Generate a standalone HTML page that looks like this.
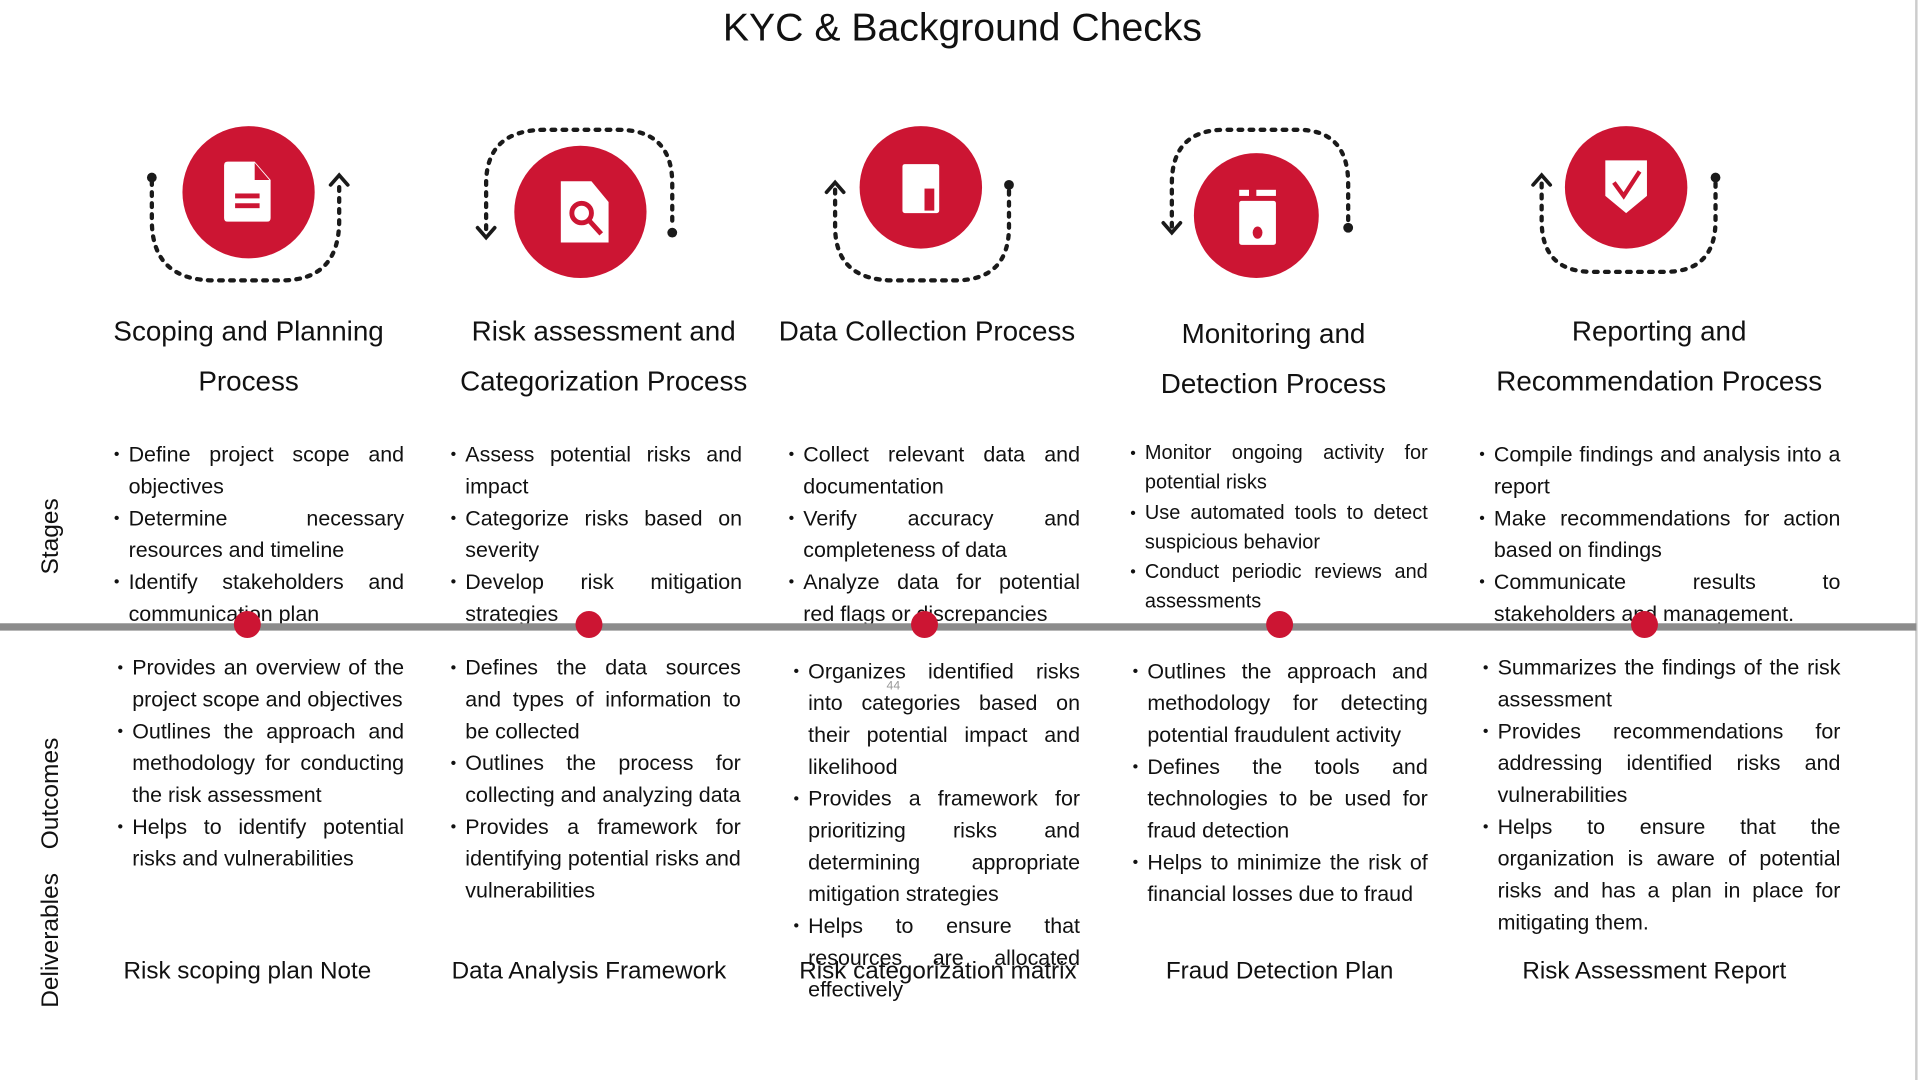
<!DOCTYPE html>
<html><head><meta charset="utf-8"><style>
html,body{margin:0;padding:0;background:#fff;width:1920px;height:1080px;overflow:hidden}
#w{position:absolute;left:0;top:0;width:1568px;height:882px;transform:scale(1.2245);transform-origin:0 0;font-family:"Liberation Sans",sans-serif;color:#111}
.a{position:absolute}
.h{position:absolute;font-size:22.7px;line-height:41px;text-align:center;white-space:nowrap;transform:translateX(-50%)}
ul{position:absolute;margin:0;padding:0 0 0 12px;list-style:none;font-size:17.5px;line-height:26px;text-align:justify}
li{position:relative}
li::before{content:"•";position:absolute;left:-12px;font-size:13px}
.sm{font-size:16.3px;line-height:24.3px}
.d{position:absolute;font-size:19.8px;white-space:nowrap;transform:translateX(-50%);top:782px}
.side{position:absolute;font-size:20px;white-space:nowrap;transform:translate(-50%,-50%) rotate(-90deg);left:42px}
.dot{position:absolute;width:22px;height:22px;border-radius:50%;background:#cc1533;top:499px}
</style></head><body><div id="w">
<div class="a" style="left:0;right:0;top:4px;text-align:center;font-size:32px;padding-left:4px">KYC &amp; Background Checks</div>
<div class="a" style="left:1564px;top:0;width:2px;height:882px;background:#ccc"></div>

<svg class="a" style="left:0;top:0" width="1568" height="260" viewBox="0 0 1568 260">
<g fill="none" stroke="#1a1a1a" stroke-width="3.5" stroke-linecap="round" stroke-dasharray="3 6">
<path d="M124 148 V180 Q124 229 175 229 H230 Q277 229 277 180 V150"/>
<path d="M397 187 V150 Q397 106 445 106 H505 Q549 106 549 150 V185"/>
<path d="M682 155 V185 Q682 229 730 229 H780 Q824 229 824 185 V155"/>
<path d="M957 185 V150 Q957 106 1000 106 H1060 Q1101 106 1101 150 V182"/>
<path d="M1259 150 V180 Q1259 222 1300 222 H1360 Q1401 222 1401 180 V148"/>
</g>
<g fill="none" stroke="#1a1a1a" stroke-width="3" stroke-linecap="round">
<path d="M270 151 L277 143 L284 151"/><path d="M390 186 L397 194 L404 186"/>
<path d="M675 157 L682 149 L689 157"/><path d="M950 182 L957 190 L964 182"/>
<path d="M1252 151 L1259 143 L1266 151"/>
</g>
<g fill="#1a1a1a"><circle cx="124" cy="145" r="4"/><circle cx="549" cy="190" r="4"/><circle cx="824" cy="151" r="4"/><circle cx="1101" cy="186" r="4"/><circle cx="1401" cy="145" r="4"/></g>
<g fill="#cc1533"><ellipse cx="203" cy="157" rx="54" ry="54"/><ellipse cx="474" cy="173" rx="54" ry="54"/><ellipse cx="752" cy="153" rx="50" ry="50"/><ellipse cx="1026" cy="176" rx="51" ry="51"/><ellipse cx="1328" cy="153" rx="50" ry="50"/></g>
<g fill="#fff">
<path d="M186 132 H208 L221 147 V178 Q221 181 218 181 H186 Q183 181 183 178 V135 Q183 132 186 132Z"/>
<path d="M458 148 H483 L497 165 V198 H458Z"/>
<rect x="737" y="134" width="30" height="40" rx="2"/>
<rect x="1012" y="164" width="30" height="36" rx="2"/><rect x="1012" y="155" width="8" height="5"/><rect x="1026" y="155" width="16" height="5"/>
<path d="M1311 131 H1345 V160 L1328 174 L1311 160Z"/>
</g>
<g fill="#cc1533"><path d="M208 133 V147 H220Z"/><rect x="192" y="158" width="20" height="4"/><rect x="192" y="166" width="20" height="4"/>
<rect x="755" y="154" width="8" height="18"/><ellipse cx="1027" cy="190" rx="4" ry="5"/></g>
<circle cx="475" cy="174" r="8" fill="none" stroke="#cc1533" stroke-width="4"/>
<path d="M481 180 L491 191" stroke="#cc1533" stroke-width="4"/>
<path d="M1318 149 L1326 160 L1339 140" fill="none" stroke="#cc1533" stroke-width="3.5"/>
</svg>

<div class="h" style="left:203px;top:250px">Scoping and Planning<br>Process</div>
<div class="h" style="left:493px;top:250px">Risk assessment and<br>Categorization Process</div>
<div class="h" style="left:757px;top:250px">Data Collection Process</div>
<div class="h" style="left:1040px;top:252px">Monitoring and<br>Detection Process</div>
<div class="h" style="left:1355px;top:250px">Reporting and<br>Recommendation Process</div>

<ul style="left:93px;top:358px;width:225px"><li>Define project scope and objectives</li><li>Determine necessary resources and timeline</li><li>Identify stakeholders and communication plan</li></ul>
<ul style="left:368px;top:358px;width:226px"><li>Assess potential risks and impact</li><li>Categorize risks based on severity</li><li>Develop risk mitigation strategies</li></ul>
<ul style="left:644px;top:358px;width:226px"><li>Collect relevant data and documentation</li><li>Verify accuracy and completeness of data</li><li>Analyze data for potential red flags or discrepancies</li></ul>
<ul class="sm" style="left:923px;top:358px;width:231px"><li>Monitor ongoing activity for potential risks</li><li>Use automated tools to detect suspicious behavior</li><li>Conduct periodic reviews and assessments</li></ul>
<ul style="left:1208px;top:358px;width:283px"><li>Compile findings and analysis into a report</li><li>Make recommendations for action based on findings</li><li>Communicate results to stakeholders and management.</li></ul>

<div class="a" style="left:0;top:509px;width:1565px;height:6px;background:#8c8c8c"></div>
<div class="dot" style="left:191px"></div><div class="dot" style="left:470px"></div><div class="dot" style="left:744px"></div><div class="dot" style="left:1034px"></div><div class="dot" style="left:1332px"></div>

<ul style="left:96px;top:532px;width:222px"><li>Provides an overview of the project scope and objectives</li><li>Outlines the approach and methodology for conducting the risk assessment</li><li>Helps to identify potential risks and vulnerabilities</li></ul>
<ul style="left:368px;top:532px;width:225px"><li>Defines the data sources and types of information to be collected</li><li>Outlines the process for collecting and analyzing data</li><li>Provides a framework for identifying potential risks and vulnerabilities</li></ul>
<ul style="left:648px;top:535px;width:222px"><li>Organizes identified risks into categories based on their potential impact and likelihood</li><li>Provides a framework for prioritizing risks and determining appropriate mitigation strategies</li><li>Helps to ensure that resources are allocated effectively</li></ul>
<div class="a" style="left:724px;top:555px;font-size:10px;color:#999">44</div>
<ul style="left:925px;top:535px;width:229px"><li>Outlines the approach and methodology for detecting potential fraudulent activity</li><li>Defines the tools and technologies to be used for fraud detection</li><li>Helps to minimize the risk of financial losses due to fraud</li></ul>
<ul style="left:1211px;top:532px;width:280px"><li>Summarizes the findings of the risk assessment</li><li>Provides recommendations for addressing identified risks and vulnerabilities</li><li>Helps to ensure that the organization is aware of potential risks and has a plan in place for mitigating them.</li></ul>

<div class="d" style="left:202px">Risk scoping plan Note</div>
<div class="d" style="left:481px">Data Analysis Framework</div>
<div class="d" style="left:766px">Risk categorization matrix</div>
<div class="d" style="left:1045px">Fraud Detection Plan</div>
<div class="d" style="left:1351px">Risk Assessment Report</div>

<div class="side" style="top:438px">Stages</div>
<div class="side" style="top:648px">Outcomes</div>
<div class="side" style="top:768px">Deliverables</div>
</div></body></html>
